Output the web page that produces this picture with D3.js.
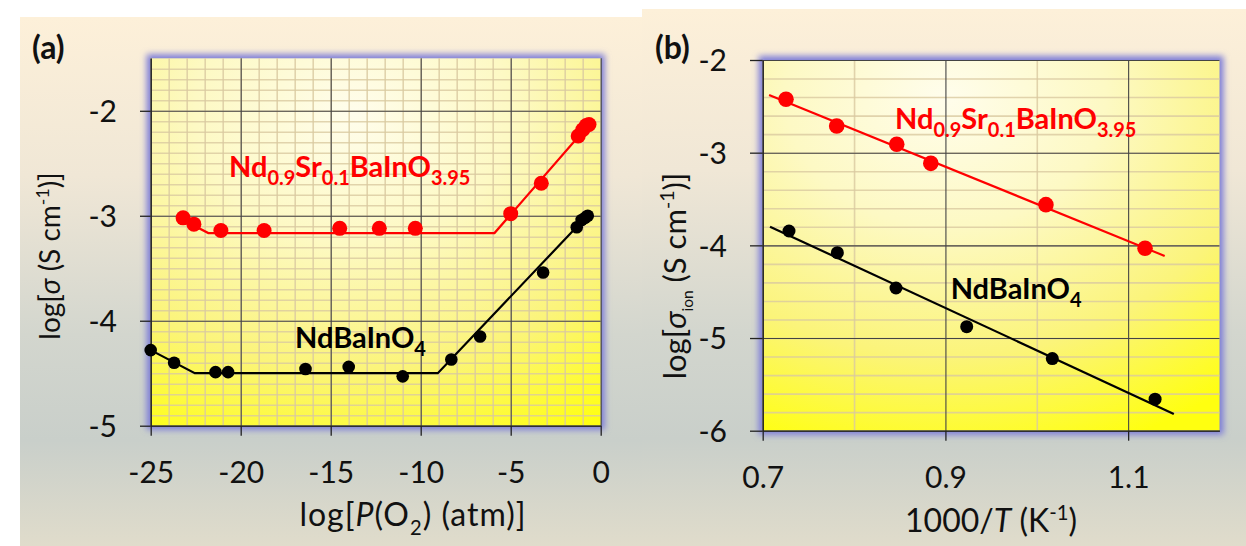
<!DOCTYPE html>
<html>
<head>
<meta charset="utf-8">
<script src="https://cdn.jsdelivr.net/npm/d3@7"></script>
<style>
  body { margin: 0; background: #fff; }
  svg { display: block; font-family: Lato, "Open Sans", sans-serif; }
</style>
</head>
<body>
<svg id="chart" width="1246" height="546"></svg>
<script>
// panel (a): conductivity vs oxygen partial pressure
const pO2Red   = [-23.2, -22.6, -21.1, -18.7, -14.5, -12.3, -10.3, -5.0, -3.3, -1.25, -1.0, -0.8, -0.65];
const sigRed   = [-3.02, -3.08, -3.14, -3.14, -3.12, -3.12, -3.12, -2.98, -2.69, -2.24, -2.18, -2.14, -2.13];
const pO2Black = [-25.0, -23.7, -21.4, -20.7, -16.4, -14.0, -11.0, -8.3, -6.7, -3.2, -1.33, -1.06, -0.87, -0.72];
const sigBlack = [-4.28, -4.40, -4.49, -4.49, -4.46, -4.44, -4.53, -4.37, -4.15, -3.54, -3.11, -3.04, -3.02, -3.0];
// fitted lines (a)
const fitRedX   = [-23.3, -21.8, -5.9, -0.7];
const fitRedY   = [-3.03, -3.165, -3.165, -2.14];
const fitBlackX = [-25.0, -22.55, -9.05, -0.8];
const fitBlackY = [-4.28, -4.50, -4.50, -3.01];

// panel (b): ionic conductivity vs 1000/T
const invTRed   = [0.7255, 0.781, 0.8467, 0.884, 1.010, 1.1185];
const sigIonRed = [-2.424, -2.712, -2.909, -3.115, -3.561, -4.032];
const invTBlack   = [0.7288, 0.7817, 0.8459, 0.9233, 1.017, 1.1295];
const sigIonBlack = [-3.845, -4.079, -4.460, -4.877, -5.222, -5.660];
const lineRedX   = [0.707, 1.140];
const lineRedY   = [-2.378, -4.114];
const lineBlackX = [0.708, 1.150];
const lineBlackY = [-3.798, -5.819];

const ticksA_x = [-25, -20, -15, -10, -5, 0];
const ticksA_y = [-2, -3, -4, -5];
const ticksB_x = [0.7, 0.9, 1.1];
const ticksB_y = [-2, -3, -4, -5, -6];

const svg = d3.select("#chart");
const defs = svg.append("defs");

// panel backgrounds
const bg = defs.append("linearGradient").attr("id", "bg").attr("x1", 0).attr("y1", 0).attr("x2", 0).attr("y2", 1);
[[0, "#fdf0d9"], [0.3, "#f0e7d6"], [0.6, "#d3d6ce"], [0.8, "#c9cfca"], [1, "#e0dccb"]]
  .forEach(([o, c]) => bg.append("stop").attr("offset", o).attr("stop-color", c));

function plotGrad(id, cx, cy) {
  const g = defs.append("radialGradient").attr("id", id)
    .attr("cx", cx).attr("cy", cy).attr("r", 1.0);
  [[0, "#fffdec"], [0.35, "#fdf9c4"], [0.7, "#fbf47a"], [1, "#ffff10"]]
    .forEach(([o, c]) => g.append("stop").attr("offset", o).attr("stop-color", c));
}
plotGrad("plotA", 0.45, 0.15);
plotGrad("plotB", 0.4, 0.1);

const glow = defs.append("filter").attr("id", "glow")
  .attr("x", -0.2).attr("y", -0.2).attr("width", 1.4).attr("height", 1.4);
glow.append("feMorphology").attr("operator", "dilate").attr("radius", 4);
glow.append("feGaussianBlur").attr("stdDeviation", 3);

svg.append("rect").attr("x", 20).attr("y", 17).attr("width", 622).attr("height", 529).attr("fill", "url(#bg)");
svg.append("rect").attr("x", 642).attr("y", 9).attr("width", 604).attr("height", 537).attr("fill", "url(#bg)");

const fmt = d => String(d);

function drawPanel(o) {
  const { x, y } = o;
  const [x0, x1] = x.range(), [y0, y1] = y.range();
  const g = svg.append("g");

  g.append("rect").attr("x", x0).attr("y", y1).attr("width", x1 - x0).attr("height", y0 - y1)
    .attr("fill", "#7c7cd8").attr("filter", "url(#glow)");
  g.append("rect").attr("x", x0).attr("y", y1).attr("width", x1 - x0).attr("height", y0 - y1)
    .attr("fill", `url(#${o.grad})`);

  // minor grid
  g.append("g").attr("transform", `translate(0,${y0})`)
    .call(d3.axisBottom(x).tickValues(o.minorX).tickSize(-(y0 - y1)).tickFormat(""))
    .call(s => s.select(".domain").remove())
    .selectAll("line").attr("stroke", "#d9c9a0").attr("stroke-width", 1.6).attr("stroke-opacity", 0.8);
  g.append("g").attr("transform", `translate(${x0},0)`)
    .call(d3.axisLeft(y).tickValues(o.minorY).tickSize(-(x1 - x0)).tickFormat(""))
    .call(s => s.select(".domain").remove())
    .selectAll("line").attr("stroke", "#d9c9a0").attr("stroke-width", 1.6).attr("stroke-opacity", 0.8);
  // major grid
  g.append("g").attr("transform", `translate(0,${y0})`)
    .call(d3.axisBottom(x).tickValues(o.majorX).tickSize(-(y0 - y1)).tickFormat(""))
    .call(s => s.select(".domain").remove())
    .selectAll("line").attr("stroke", "#444").attr("stroke-width", 1.1);
  g.append("g").attr("transform", `translate(${x0},0)`)
    .call(d3.axisLeft(y).tickValues(o.majorY).tickSize(-(x1 - x0)).tickFormat(""))
    .call(s => s.select(".domain").remove())
    .selectAll("line").attr("stroke", "#444").attr("stroke-width", 1.1);

  // axes
  const ax = g.append("g").attr("transform", `translate(0,${y0})`)
    .call(d3.axisBottom(x).tickValues(o.ticksX).tickSize(10).tickSizeOuter(0).tickFormat(fmt));
  ax.selectAll("text").attr("y", o.xLabelDy).attr("dy", null);
  const ay = g.append("g").attr("transform", `translate(${x0},0)`)
    .call(d3.axisLeft(y).tickValues(o.ticksY).tickSize(o.tickY).tickSizeOuter(0).tickPadding(23).tickFormat(fmt));
  [ax, ay].forEach(a => {
    a.select(".domain").attr("stroke", "#222").attr("stroke-width", 1.3);
    a.selectAll("line").attr("stroke", "#222").attr("stroke-width", 1.3);
    a.selectAll("text").attr("font-size", 30).attr("font-family", "Lato, sans-serif").attr("fill", "#111");
  });
  ay.selectAll("text").attr("dy", "0.36em");

  const line = d3.line().x(d => x(d[0])).y(d => y(d[1]));
  o.lines.forEach(l => {
    g.append("path").datum(d3.zip(l.xs, l.ys)).attr("d", line)
      .attr("fill", "none").attr("stroke", l.color).attr("stroke-width", 2.2);
  });
  o.series.forEach(s => {
    g.append("g").selectAll("circle").data(d3.zip(s.xs, s.ys)).join("circle")
      .attr("cx", d => x(d[0])).attr("cy", d => y(d[1])).attr("r", s.r).attr("fill", s.color);
  });
}

const xA = d3.scaleLinear().domain([-25, 0]).range([150.7, 600.7]);
const yA = d3.scaleLinear().domain([-5, -1.5]).range([425.7, 58.3]);
const xB = d3.scaleLinear().domain([0.7, 1.2]).range([762.7, 1219.5]);
const yB = d3.scaleLinear().domain([-6, -2]).range([430.7, 60]);

drawPanel({
  x: xA, y: yA, grad: "plotA",
  minorX: d3.range(-24, 0, 1), minorY: d3.range(-49, -15, 1).map(v => v / 10),
  majorX: ticksA_x, majorY: ticksA_y,
  ticksX: ticksA_x, ticksY: ticksA_y, tickY: 10.7, xLabelDy: 57,
  lines: [{ xs: fitRedX, ys: fitRedY, color: "#ff0000" }, { xs: fitBlackX, ys: fitBlackY, color: "#000" }],
  series: [{ xs: pO2Red, ys: sigRed, color: "#ff0000", r: 7.5 }, { xs: pO2Black, ys: sigBlack, color: "#000", r: 6.3 }]
});
drawPanel({
  x: xB, y: yB, grad: "plotB",
  minorX: [0.8, 1.0], minorY: d3.range(-29, -10, 1).map(v => v / 5),
  majorX: ticksB_x, majorY: ticksB_y,
  ticksX: ticksB_x, ticksY: ticksB_y, tickY: 12.7, xLabelDy: 57.3,
  lines: [{ xs: lineRedX, ys: lineRedY, color: "#ff0000" }, { xs: lineBlackX, ys: lineBlackY, color: "#000" }],
  series: [{ xs: invTRed, ys: sigIonRed, color: "#ff0000", r: 7.8 }, { xs: invTBlack, ys: sigIonBlack, color: "#000", r: 6.5 }]
});

// rich text: parts = [text, kind] with kind "", "sub", "sup", "i", "isub"
function rich(sel, parts, size, subSize) {
  let shift = 0;
  parts.forEach(([t, k]) => {
    const ts = sel.append("tspan").text(t);
    let target = 0;
    if (k === "sub") target = size * 0.27;
    if (k === "sup") target = -size * 0.38;
    if (k === "isub") target = size * 0.22;
    ts.attr("dy", target - shift);
    shift = target;
    if (k === "sub" || k === "sup") ts.attr("font-size", subSize);
    if (k === "isub") ts.attr("font-size", size * 0.5);
    if (k === "i") ts.attr("font-style", "italic");
  });
}

function label(x, y, parts, opts) {
  const t = svg.append("text").attr("x", x).attr("y", y)
    .attr("font-size", opts.size).attr("fill", opts.color || "#111")
    .attr("font-weight", opts.bold ? "bold" : "normal")
    .attr("text-anchor", opts.anchor || "start");
  if (opts.spacing) t.attr("letter-spacing", opts.spacing);
  if (opts.rotate) t.attr("x", 0).attr("y", 0).attr("transform", `translate(${x},${y}) rotate(-90)`);
  rich(t, parts, opts.size, opts.subSize || opts.size * 0.63);
  return t;
}

const redName = [["Nd", ""], ["0.9", "sub"], ["Sr", ""], ["0.1", "sub"], ["BaInO", ""], ["3.95", "sub"]];
const blackName = [["NdBaInO", ""], ["4", "sub"]];

label(32, 59, [["(a)", ""]], { size: 32, bold: true });
label(655, 59, [["(b)", ""]], { size: 32, bold: true });

label(229, 176.7, redName, { size: 29, subSize: 20, bold: true, color: "#ff0000" });
label(295, 348, blackName, { size: 29, subSize: 20, bold: true, color: "#000" });
label(895, 129.3, redName, { size: 29, subSize: 20, bold: true, color: "#ff0000" });
label(950.7, 299.3, blackName, { size: 29, subSize: 20, bold: true, color: "#000" });

label(413, 526, [["log[", ""], ["P", "i"], ["(O", ""], ["2", "sub"], [") (atm)]", ""]], { size: 32, anchor: "middle", spacing: 1 });
label(991, 532, [["1000/", ""], ["T", "i"], [" (K", ""], ["-1", "sup"], [")", ""]], { size: 32, anchor: "middle" });
label(60, 256, [["log[", ""], ["σ", "i"], [" (S cm", ""], ["-1", "sup"], [")]", ""]], { size: 28, anchor: "middle", rotate: true });
label(686, 276, [["log[", ""], ["σ", "i"], ["ion", "isub"], [" (S cm", ""], ["-1", "sup"], [")]", ""]], { size: 31, anchor: "middle", rotate: true });
</script>
</body>
</html>
